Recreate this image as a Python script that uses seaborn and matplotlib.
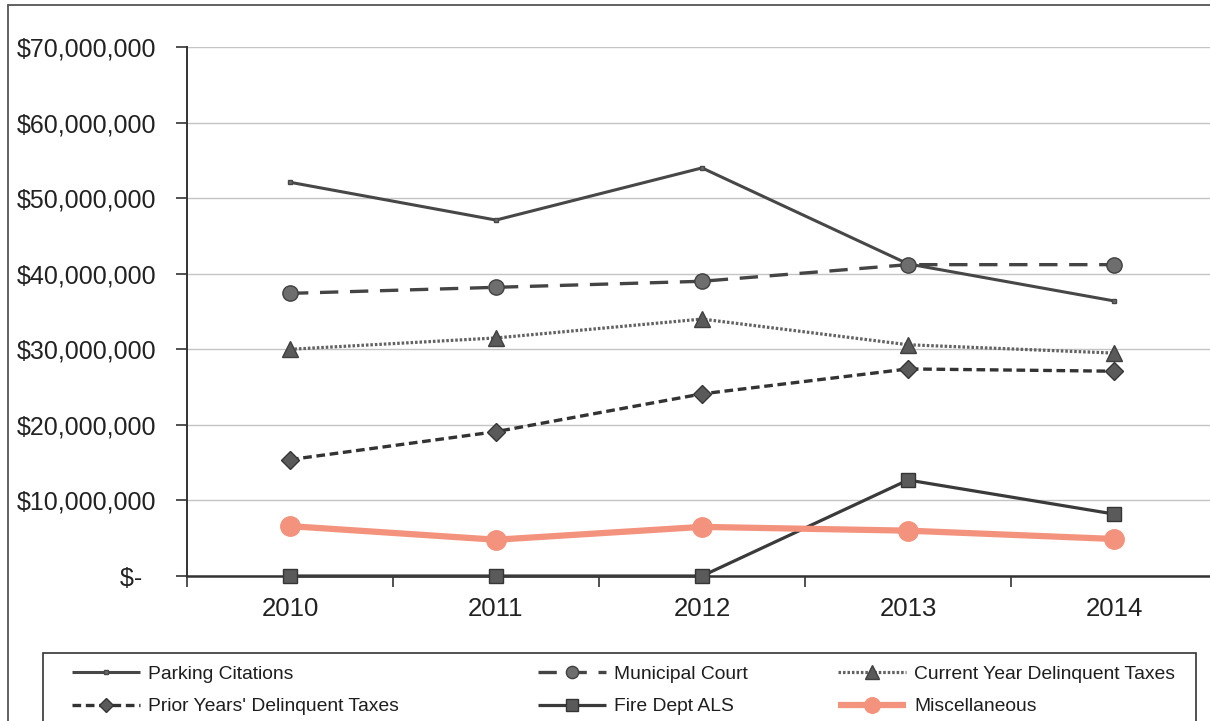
import numpy as np
import pandas as pd
import matplotlib
matplotlib.use("Agg")
import matplotlib.pyplot as plt
from matplotlib.patches import Rectangle
from matplotlib.lines import Line2D
from matplotlib.ticker import FuncFormatter, FixedLocator
import seaborn as sns

# Revenue by source, fiscal years 2010-2014 (dollars)
years = [2010, 2011, 2012, 2013, 2014]
parking_citations = [52.1e6, 47.1e6, 54.0e6, 41.3e6, 36.4e6]
municipal_court = [37.4e6, 38.2e6, 39.0e6, 41.2e6, 41.2e6]
current_year_delinquent = [30.0e6, 31.5e6, 34.0e6, 30.6e6, 29.5e6]
prior_years_delinquent = [15.4e6, 19.1e6, 24.1e6, 27.4e6, 27.1e6]
fire_dept_als = [0.0, 0.0, 0.0, 12.7e6, 8.2e6]
miscellaneous = [6.6e6, 4.8e6, 6.5e6, 6.0e6, 4.9e6]

series_names = ["Parking Citations", "Municipal Court", "Current Year Delinquent Taxes",
                "Prior Years' Delinquent Taxes", "Fire Dept ALS", "Miscellaneous"]
series_values = [parking_citations, municipal_court, current_year_delinquent,
                 prior_years_delinquent, fire_dept_als, miscellaneous]

df = pd.DataFrame({
    "Year": np.tile(years, len(series_names)),
    "Series": np.repeat(series_names, len(years)),
    "Revenue": np.concatenate(series_values),
})

sns.set_theme(style="white")
plt.rcParams["font.family"] = ["Liberation Sans", "DejaVu Sans"]

W, H = 1210, 721
fig = plt.figure(figsize=(W / 100, H / 100), dpi=100)
fig.patch.set_facecolor("white")

ax = fig.add_axes([187 / W, 1 - 576 / H, (1217 - 187) / W, (576 - 47) / H])

styles = {
    "Parking Citations": dict(color="#474747", lw=2.2, ls="-", marker="s", ms=3.5,
                              mfc="#6a6a6a", mec="#474747", z=3),
    "Municipal Court": dict(color="#444444", lw=2.4, ls=(0, (5.5, 3.5)), marker="o", ms=11,
                            mfc="#6e6e6e", mec="#404040", z=4),
    "Current Year Delinquent Taxes": dict(color="#626262", lw=2.3, ls=(0, (0.8, 0.6)), marker="^", ms=12,
                                          mfc="#5a5a5a", mec="#404040", z=5),
    "Prior Years' Delinquent Taxes": dict(color="#333333", lw=2.4, ls=(0, (2.6, 1.4)), marker="D", ms=9,
                                          mfc="#5a5a5a", mec="#353535", z=6),
    "Fire Dept ALS": dict(color="#3a3a3a", lw=2.3, ls="-", marker="s", ms=10,
                          mfc="#5a5a5a", mec="#353535", z=7),
    "Miscellaneous": dict(color="#f4937d", lw=4.5, ls="-", marker="o", ms=14,
                          mfc="#f4937d", mec="#f4937d", z=8),
}

handles = {}
for name in series_names:
    st = styles[name]
    sub = df[df["Series"] == name]
    sns.lineplot(data=sub, x="Year", y="Revenue", ax=ax, color=st["color"],
                 linewidth=st["lw"], linestyle=st["ls"], marker=st["marker"],
                 markersize=st["ms"], markerfacecolor=st["mfc"], markeredgecolor=st["mec"],
                 markeredgewidth=1.0, label=name, zorder=st["z"], legend=False,
                 clip_on=False)
    line = ax.get_lines()[-1]
    line.set_solid_capstyle("butt")
    handles[name] = line

# Axes limits and ticks
ax.set_xlim(2009.5, 2014.5)
ax.set_ylim(0, 70e6)
ax.set_xlabel("")
ax.set_ylabel("")

ax.xaxis.set_major_locator(FixedLocator([y - 0.5 for y in years] + [years[-1] + 0.5]))
ax.xaxis.set_minor_locator(FixedLocator(years))
ax.xaxis.set_major_formatter(FuncFormatter(lambda v, p: ""))
ax.xaxis.set_minor_formatter(FuncFormatter(lambda v, p: f"{int(round(v))}"))
ax.tick_params(axis="x", which="major", direction="out", length=8, width=1.2,
               color="#333333", bottom=True)
ax.tick_params(axis="x", which="minor", length=0, pad=15, labelsize=18.5,
               labelcolor="#222222", bottom=True)

ax.yaxis.set_major_locator(FixedLocator(np.arange(0, 70e6 + 1, 10e6)))
ax.yaxis.set_major_formatter(FuncFormatter(
    lambda v, p: "$-\u00a0\u00a0" if v == 0 else f"${v:,.0f}"))
ax.tick_params(axis="y", direction="out", length=8, width=1.2, color="#333333",
               pad=14, labelsize=18, labelcolor="#222222", left=True)

ax.yaxis.grid(True, color="#c4c4c4", linewidth=1.0)
ax.xaxis.grid(False)
ax.set_axisbelow(True)
for side in ["top", "right"]:
    ax.spines[side].set_visible(False)
ax.spines["left"].set_color("#333333")
ax.spines["left"].set_linewidth(1.4)
ax.spines["bottom"].set_color("#333333")
ax.spines["bottom"].set_linewidth(1.8)
ax.spines["bottom"].set_zorder(2.5)

# Outer chart frame
fig.add_artist(Line2D([8 / W, 8 / W], [0, 1 - 5 / H], transform=fig.transFigure,
                      color="#555555", lw=1.3))
fig.add_artist(Line2D([8 / W, 1], [1 - 5 / H, 1 - 5 / H], transform=fig.transFigure,
                      color="#555555", lw=1.3))

# Legend box and three legend columns
fig.add_artist(Rectangle((43 / W, -20 / H), (1196 - 43) / W, (721 + 20 - 653) / H,
                         transform=fig.transFigure, fill=False, edgecolor="#333333", lw=1.2))
columns = [
    (72, ["Parking Citations", "Prior Years' Delinquent Taxes"]),
    (538, ["Municipal Court", "Fire Dept ALS"]),
    (838, ["Current Year Delinquent Taxes", "Miscellaneous"]),
]
for x0, names in columns:
    leg = fig.legend([handles[n] for n in names], names, loc="upper left",
                     bbox_to_anchor=(x0 / W, 1 - 665 / H), bbox_transform=fig.transFigure,
                     frameon=False, fontsize=13.9, handlelength=3.5, handletextpad=0.45,
                     labelspacing=0.8, borderpad=0, borderaxespad=0, markerscale=0.8,
                     numpoints=1)
    for t in leg.get_texts():
        t.set_color("#1e1e1e")

fig.savefig("out.png", dpi=100, facecolor="white")
